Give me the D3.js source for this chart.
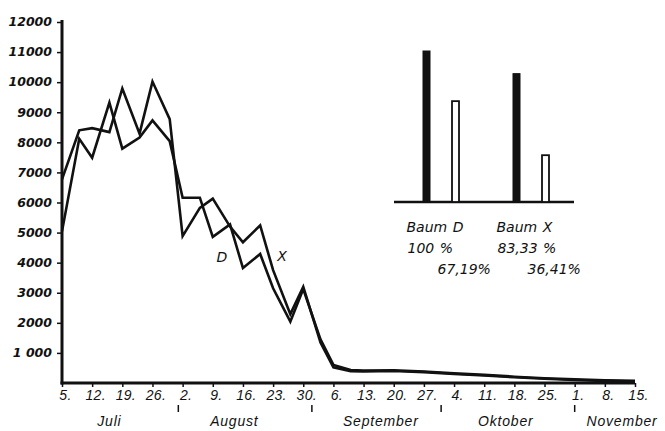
<!DOCTYPE html>
<html>
<head>
<meta charset="utf-8">
<script src="https://cdn.jsdelivr.net/npm/d3@7"></script>
<style>
  body { margin: 0; background: #fff; }
  svg text { fill: #111; }
</style>
</head>
<body>
<script>
// days counted from 5. Juli
var days = [0, 4, 7, 11, 14, 18, 21, 25, 28, 32, 35, 39, 42, 46, 49, 53, 56,
            60, 63, 67, 70, 77, 84, 91, 98, 105, 112, 119, 126, 133];
var valuesD = [5040, 8120, 7490, 9320, 7790, 8160, 8730, 8040, 6160, 6160, 4860,
               5270, 3820, 4290, 3150, 2040, 3120, 1450, 600, 430, 410, 420,
               380, 320, 270, 210, 160, 120, 90, 70];
var valuesX = [6770, 8400, 8470, 8340, 9790, 8290, 10020, 8770, 4880, 5820, 6130,
               5200, 4680, 5240, 3750, 2290, 3200, 1350, 520, 390, 380, 400,
               360, 300, 250, 190, 140, 100, 70, 50];

var weekLabels = ["5.", "12.", "19.", "26.", "2.", "9.", "16.", "23.", "30.", "6.",
                  "13.", "20.", "27.", "4.", "11.", "18.", "25.", "1.", "8.", "15."];
var months = ["Juli", "August", "September", "Oktober", "November"];
var monthMid = [11, 40, 74, 103, 130];
var monthStarts = [27, 58, 88, 119];
var yTicks = [1000, 2000, 3000, 4000, 5000, 6000, 7000, 8000, 9000, 10000, 11000, 12000];
var yTickLabels = ["1 000", "2000", "3000", "4000", "5000", "6000", "7000", "8000",
                   "9000", "10000", "11000", "12000"];

// inset: Baum D / Baum X
var baeume = ["Baum D", "Baum X"];
var barKinds = ["voll", "teil"];
var barValues = [[100, 66.8], [85, 31]];
var pctLabels = [["100 %", "67,19%"], ["83,33 %", "36,41%"]];

var width = 665, height = 431;
var fontFam = "'DejaVu Sans', sans-serif";

var svg = d3.select("body").append("svg")
  .attr("width", width).attr("height", height);

var x = d3.scaleLinear().domain([0, 133]).range([62, 635]);
var y = d3.scaleLinear().domain([0, 12000]).range([383, 22]);

// y axis
var yAxis = d3.axisLeft(y).tickValues(yTicks).tickSize(5).tickPadding(5)
  .tickFormat(function(d, i) { return yTickLabels[i]; });
var yg = svg.append("g").attr("transform", "translate(" + x(0) + ",0)").call(yAxis);
yg.select(".domain").remove();
yg.selectAll(".tick line").attr("stroke", "#111").attr("stroke-width", 1.5);
yg.selectAll(".tick text")
  .style("font-family", fontFam).style("font-size", "12.5px")
  .style("font-style", "italic").style("font-weight", "bold")
  .attr("dy", "0.3em");

// x axis
var xAxis = d3.axisBottom(x).tickValues(d3.range(0, 134, 7)).tickSize(4).tickPadding(3)
  .tickFormat(function(d, i) { return weekLabels[i]; });
var xg = svg.append("g").attr("transform", "translate(0," + y(0) + ")").call(xAxis);
xg.select(".domain").remove();
xg.selectAll(".tick line").attr("stroke", "#111").attr("stroke-width", 1.5);
xg.selectAll(".tick text")
  .attr("dx", 3)
  .style("font-family", "'Liberation Sans', sans-serif").style("font-size", "14px")
  .style("font-style", "italic").style("letter-spacing", "0.3px");

svg.append("line")
  .attr("x1", x(0)).attr("x2", x(0)).attr("y1", y(12000) - 2).attr("y2", y(0) + 1.5)
  .attr("stroke", "#111").attr("stroke-width", 3);
svg.append("line")
  .attr("x1", x(0) - 1.5).attr("x2", x(133)).attr("y1", y(0)).attr("y2", y(0))
  .attr("stroke", "#111").attr("stroke-width", 3);

// month separators and names
svg.selectAll(".msep").data(monthStarts).enter().append("line")
  .attr("x1", function(d) { return x(d); }).attr("x2", function(d) { return x(d); })
  .attr("y1", 405).attr("y2", 412)
  .attr("stroke", "#111").attr("stroke-width", 1.5);
svg.selectAll(".month").data(months).enter().append("text")
  .attr("x", function(d, i) { return x(monthMid[i]); })
  .attr("y", 426)
  .attr("text-anchor", "middle")
  .style("font-family", "'Liberation Sans', sans-serif").style("font-size", "14px")
  .style("font-style", "italic").style("letter-spacing", "0.8px")
  .text(function(d) { return d; });

// lines
var line = d3.line()
  .x(function(d) { return x(d[0]); })
  .y(function(d) { return y(d[1]); });
[valuesD, valuesX].forEach(function(vals) {
  svg.append("path")
    .datum(days.map(function(d, i) { return [d, vals[i]]; }))
    .attr("d", line)
    .attr("fill", "none")
    .attr("stroke", "#111")
    .attr("stroke-width", 2.6)
    .attr("stroke-linejoin", "miter");
});

svg.append("text").attr("x", 222).attr("y", 262).attr("text-anchor", "middle")
  .style("font-family", fontFam).style("font-size", "14px")
  .style("font-style", "italic").text("D");
svg.append("text").attr("x", 282).attr("y", 261).attr("text-anchor", "middle")
  .style("font-family", fontFam).style("font-size", "14px")
  .style("font-style", "italic").text("X");

// inset bars
var barBase = 202;
var gx = d3.scaleBand().domain(baeume).range([412, 592]);
var ix = d3.scaleBand().domain(barKinds).range([0, 58]);
var bh = d3.scaleLinear().domain([0, 100]).range([0, 151]);
var barW = 7;

svg.append("line")
  .attr("x1", 394).attr("x2", 574).attr("y1", barBase).attr("y2", barBase)
  .attr("stroke", "#111").attr("stroke-width", 2.5);

baeume.forEach(function(b, bi) {
  var g = svg.append("g").attr("transform", "translate(" + gx(b) + ",0)");
  g.selectAll("rect").data(barValues[bi]).enter().append("rect")
    .attr("x", function(d, i) { return ix(barKinds[i]) + ix.bandwidth() / 2 - barW / 2; })
    .attr("y", function(d) { return barBase - bh(d); })
    .attr("width", barW)
    .attr("height", function(d) { return bh(d); })
    .attr("fill", function(d, i) { return i === 0 ? "#111" : "#fff"; })
    .attr("stroke", "#111")
    .attr("stroke-width", function(d, i) { return i === 0 ? 1 : 1.8; });
  var c0 = ix("voll") + ix.bandwidth() / 2, c1 = ix("teil") + ix.bandwidth() / 2;
  var txt = function(tx, ty, s) {
    g.append("text").attr("x", tx).attr("y", ty)
      .style("font-family", fontFam).style("font-size", "14px")
      .style("font-style", "italic").style("word-spacing", "1px")
      .text(s);
  };
  txt(c0 - 20, 232, b);
  txt(c0 - 19, 253, pctLabels[bi][0]);
  txt(c1 - 18, 274, pctLabels[bi][1]);
});
</script>
</body>
</html>
